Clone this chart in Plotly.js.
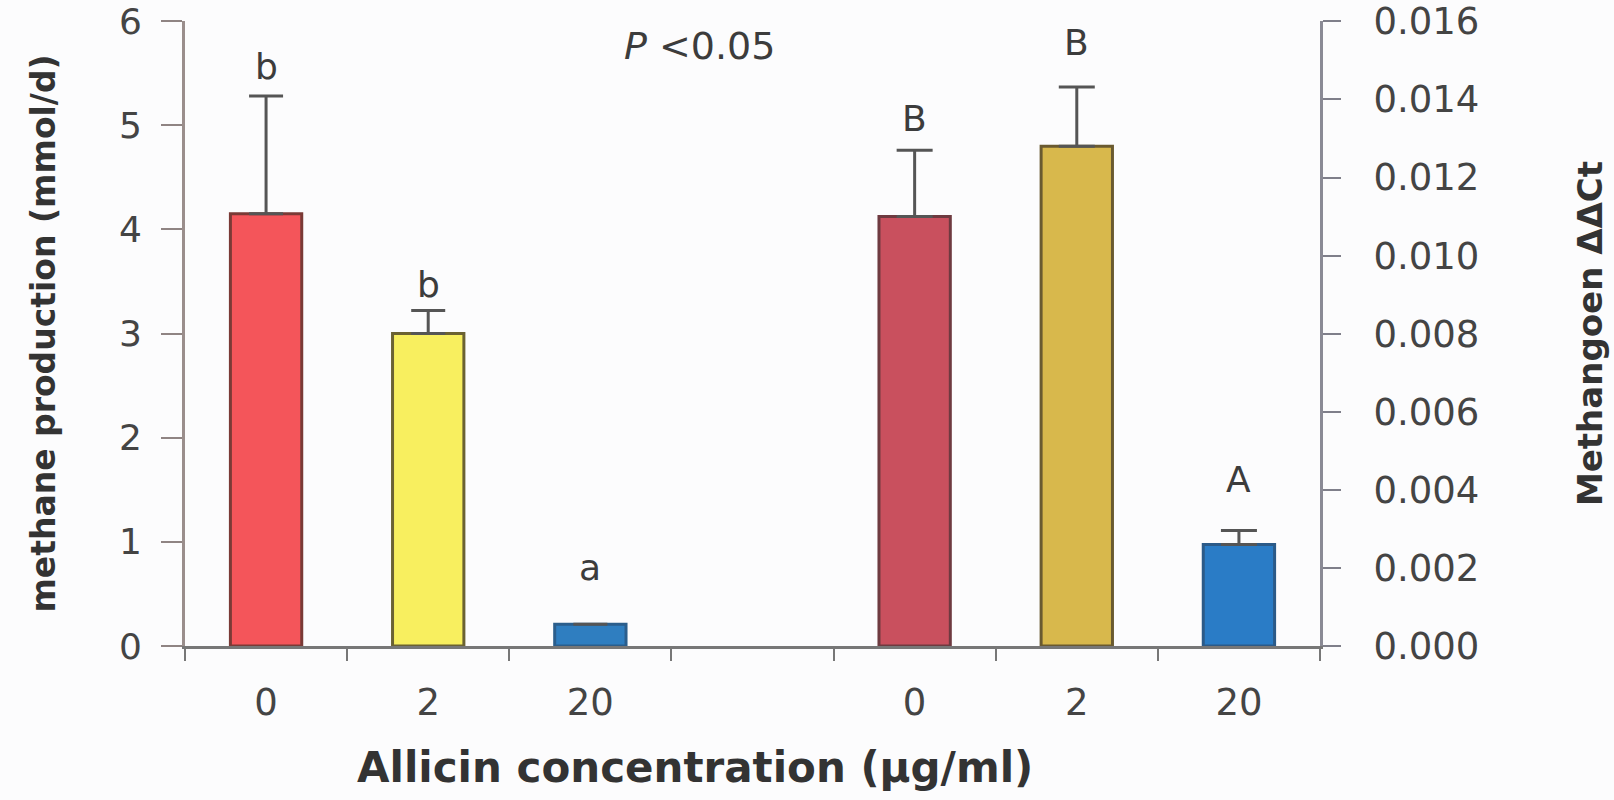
<!DOCTYPE html>
<html>
<head>
<meta charset="utf-8">
<script src="https://cdn.plot.ly/plotly-3.0.1.min.js"></script>
<style>
  html, body { margin: 0; padding: 0; background: #fcfcfd; }
  #chart { width: 1614px; height: 800px; }
</style>
</head>
<body>
<div id="chart"></div>
<script>
// ---- data ----
const concentrations = ['0', '2', '20'];                 // µg/ml
const methaneProduction = [4.15, 3.0, 0.21];             // mmol/d
const methaneProductionErr = [1.13, 0.22, 0];
const methanogenDeltaCt = [0.0110, 0.0128, 0.0026];
const methanogenDeltaCtErr = [0.0017, 0.00152, 0.00036];
const methaneLetters = ['b', 'b', 'a'];
const methanogenLetters = ['B', 'B', 'A'];

// ---- styles ----
const FONT = 'DejaVu Sans, Liberation Sans, Arial, sans-serif';
const TEXT = '#3c3c3c';
const leftFill = ['#f4555a', '#f8ef5f', '#2f7ec0'];
const leftLine = ['#7a3a36', '#6b6232', '#2b5e8c'];
const rightFill = ['#c9505e', '#d8b84c', '#2a7cc6'];
const rightLine = ['#6e3a40', '#6a5a30', '#2b5a88'];
const methaneLetterShift = [30, 26, 57];
const methanogenLetterShift = [32, 44, 51];

const traces = [
  {
    type: 'bar', x: concentrations, y: methaneProduction, xaxis: 'x', yaxis: 'y',
    width: 0.44,
    marker: { color: leftFill, line: { color: leftLine, width: 3 } },
    error_y: { type: 'data', symmetric: false, array: methaneProductionErr,
               arrayminus: methaneProductionErr.map(() => 0),
               color: '#555555', thickness: 3, width: 17 },
    hoverinfo: 'skip', showlegend: false
  },
  {
    type: 'bar', x: concentrations, y: methanogenDeltaCt, xaxis: 'x2', yaxis: 'y2',
    width: 0.44,
    marker: { color: rightFill, line: { color: rightLine, width: 3 } },
    error_y: { type: 'data', symmetric: false, array: methanogenDeltaCtErr,
               arrayminus: methanogenDeltaCtErr.map(() => 0),
               color: '#555555', thickness: 3, width: 18 },
    hoverinfo: 'skip', showlegend: false
  }
];

const annotations = [];
methaneLetters.forEach((t, i) => annotations.push({
  xref: 'x', yref: 'y', x: i, y: methaneProduction[i] + methaneProductionErr[i],
  text: t, showarrow: false, yanchor: 'middle', yshift: methaneLetterShift[i],
  font: { family: FONT, size: 36, color: TEXT }
}));
methanogenLetters.forEach((t, i) => annotations.push({
  xref: 'x2', yref: 'y2', x: i, y: methanogenDeltaCt[i] + methanogenDeltaCtErr[i],
  text: t, showarrow: false, yanchor: 'middle', yshift: methanogenLetterShift[i],
  font: { family: FONT, size: 36, color: TEXT }
}));
annotations.push({
  xref: 'paper', yref: 'paper', x: 0.4537, y: 0.96, xanchor: 'center', yanchor: 'middle',
  text: '<i>P</i> <0.05', showarrow: false,
  font: { family: FONT, size: 38, color: TEXT }
});
annotations.push({
  xref: 'paper', yref: 'paper', x: 0.4493, y: -0.195, xanchor: 'center', yanchor: 'middle',
  text: 'Allicin concentration (µg/ml)', showarrow: false,
  font: { family: FONT, size: 42, color: '#333333', weight: 'bold' }
});

const xCommon = {
  type: 'category', categoryorder: 'array', categoryarray: concentrations,
  tickson: 'boundaries',
  ticks: 'outside', ticklen: 12, tickwidth: 2, tickcolor: '#777777',
  showline: true, linecolor: '#777777', linewidth: 3,
  showgrid: false, zeroline: false, fixedrange: true,
  tickfont: { family: FONT, size: 37, color: '#444444' },
  ticklabelstandoff: 22
};

const layout = {
  width: 1614, height: 800,
  margin: { l: 185, r: 294, t: 21, b: 154, pad: 0 },
  paper_bgcolor: '#fcfcfd', plot_bgcolor: '#fcfcfd',
  font: { family: FONT, color: TEXT },
  xaxis: Object.assign({}, xCommon, {
    domain: [0, 0.5], anchor: 'y', range: [-0.5, 3.0]
  }),
  xaxis2: Object.assign({}, xCommon, {
    domain: [0.5, 1], anchor: 'y2', range: [-1.0, 2.5]
  }),
  yaxis: {
    anchor: 'x', range: [0, 6], dtick: 1, tick0: 0,
    ticks: 'outside', ticklen: 21, tickwidth: 2, tickcolor: '#8f8483',
    showline: true, linecolor: '#9a8e8c', linewidth: 3,
    showgrid: false, zeroline: false, fixedrange: true,
    tickfont: { family: FONT, size: 36, color: '#444444' },
    ticklabelstandoff: 12,
    title: { text: 'methane production (mmol/d)', standoff: 54,
             font: { family: FONT, size: 33, color: '#333333', weight: 'bold' } }
  },
  yaxis2: {
    anchor: 'x2', overlaying: 'y', side: 'right', range: [0, 0.01601], dtick: 0.002, tick0: 0,
    tickformat: '.3f',
    ticks: 'outside', ticklen: 18, tickwidth: 2, tickcolor: '#7f7f8a',
    showline: true, linecolor: '#8a8a95', linewidth: 3,
    showgrid: false, zeroline: false, fixedrange: true,
    tickfont: { family: FONT, size: 37, color: '#444444' },
    ticklabelstandoff: 25,
    title: { text: 'Methangoen ΔΔCt', standoff: 100,
             font: { family: FONT, size: 34, color: '#333333', weight: 'bold' } }
  },
  annotations: annotations
};

Plotly.newPlot('chart', traces, layout, { displayModeBar: false, staticPlot: true });
</script>
</body>
</html>
